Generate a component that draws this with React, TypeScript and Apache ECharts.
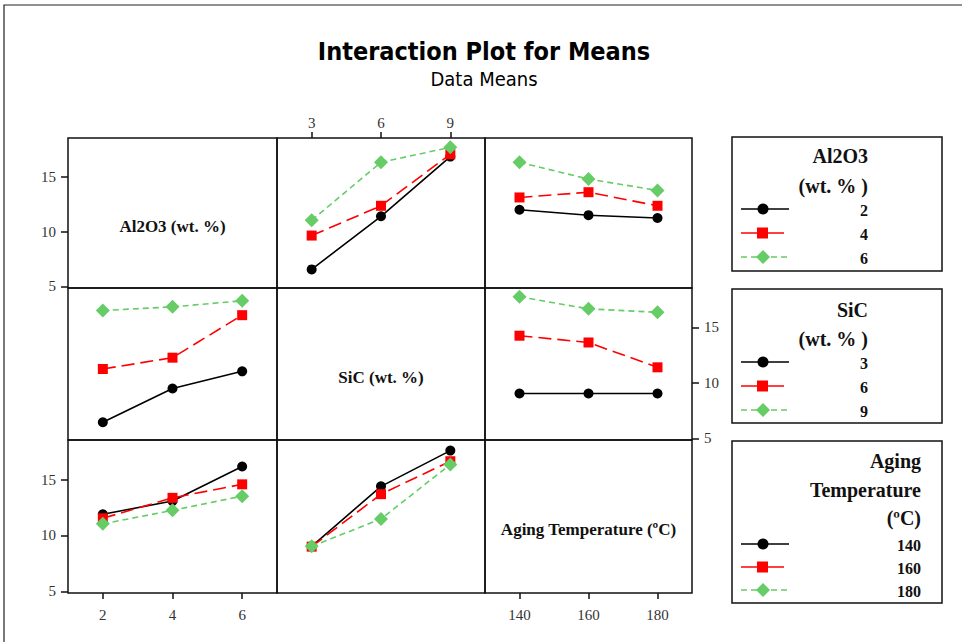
import React, { useEffect, useRef } from "react";
import * as echarts from "echarts";

// Factor levels (x categories)
const al2o3Levels = ["2", "4", "6"];
const sicLevels = ["3", "6", "9"];
const tempLevels = ["140", "160", "180"];
const yTicks = [5, 10, 15];

// Row 1: lines = Al2O3 levels (2, 4, 6)
const al_vsSiC_2 = [6.55, 11.4, 16.85];
const al_vsSiC_4 = [9.64, 12.36, 17.06];
const al_vsSiC_6 = [11.03, 16.33, 17.7];
const al_vsTemp_2 = [12.0, 11.5, 11.24];
const al_vsTemp_4 = [13.12, 13.6, 12.36];
const al_vsTemp_6 = [16.33, 14.8, 13.76];

// Row 2: lines = SiC levels (3, 6, 9)
const sic_vsAl_3 = [6.45, 9.49, 11.04];
const sic_vsAl_6 = [11.25, 12.27, 16.1];
const sic_vsAl_9 = [16.52, 16.85, 17.4];
const sic_vsTemp_3 = [9.04, 9.04, 9.04];
const sic_vsTemp_6 = [14.25, 13.64, 11.4];
const sic_vsTemp_9 = [17.76, 16.67, 16.36];

// Row 3: lines = Aging temperature levels (140, 160, 180)
const t_vsAl_140 = [11.9, 13.08, 16.18];
const t_vsAl_160 = [11.54, 13.37, 14.58];
const t_vsAl_180 = [11.04, 12.25, 13.52];
const t_vsSiC_140 = [9.03, 14.4, 17.6];
const t_vsSiC_160 = [9.0, 13.7, 16.65];
const t_vsSiC_180 = [9.03, 11.48, 16.36];

const BLACK = "#000000";
const RED = "#ff0000";
const GREEN = "#66cc66";
const SERIF = "'Liberation Serif', 'Times New Roman', serif";
const SANS = "'DejaVu Sans Condensed', 'DejaVu Sans', sans-serif";

const colX = [68, 277, 485, 692];
const rowY = [138, 288, 440, 593];

export default function App() {
  const ref = useRef<HTMLDivElement>(null);
  useEffect(() => {
    if (!ref.current) return;
    const chart = echarts.init(ref.current, undefined, { renderer: "svg" });

    const grids: any[] = [];
    const xAxes: any[] = [];
    const yAxes: any[] = [];
    const series: any[] = [];
    const cats = [al2o3Levels, sicLevels, tempLevels];

    const axisLbl = { fontFamily: SERIF, fontSize: 15, color: "#333" };

    for (let r = 0; r < 3; r++) {
      for (let c = 0; c < 3; c++) {
        const idx = grids.length;
        grids.push({
          left: colX[c],
          top: rowY[r],
          width: colX[c + 1] - colX[c],
          height: rowY[r + 1] - rowY[r],
          show: true,
          borderColor: "#111",
          borderWidth: 1.5,
          backgroundColor: "transparent",
          containLabel: false,
        });
        const showXTop = r === 0 && c === 1;
        const showXBottom = r === 2 && (c === 0 || c === 2);
        const showX = showXTop || showXBottom;
        xAxes.push({
          gridIndex: idx,
          type: "category",
          data: cats[c],
          boundaryGap: true,
          position: showXTop ? "top" : "bottom",
          axisLine: { show: false },
          axisTick: {
            show: showX,
            alignWithLabel: true,
            length: 6,
            lineStyle: { color: "#111", width: 1.5 },
          },
          axisLabel: { show: showX, margin: showXTop ? 8 : 14, ...axisLbl },
          splitLine: { show: false },
        });
        const showYLeft = c === 0 && (r === 0 || r === 2);
        const showYRight = c === 2 && r === 1;
        const showY = showYLeft || showYRight;
        yAxes.push({
          gridIndex: idx,
          type: "value",
          min: 4.85,
          max: 18.55,
          position: showYRight ? "right" : "left",
          axisLine: { show: false },
          axisTick: {
            show: showY,
            length: 7,
            customValues: yTicks,
            lineStyle: { color: "#111", width: 1.5 },
          },
          axisLabel: { show: showY, margin: 12, customValues: yTicks, ...axisLbl },
          splitLine: { show: false },
        });
      }
    }

    const styles = [
      { color: BLACK, symbol: "circle", size: 10, type: "solid" as any },
      { color: RED, symbol: "rect", size: 10, type: [13, 6] as any },
      { color: GREEN, symbol: "diamond", size: 14, type: [6, 4] as any },
    ];
    const panels: [number, number[][]][] = [
      [1, [al_vsSiC_2, al_vsSiC_4, al_vsSiC_6]],
      [2, [al_vsTemp_2, al_vsTemp_4, al_vsTemp_6]],
      [3, [sic_vsAl_3, sic_vsAl_6, sic_vsAl_9]],
      [5, [sic_vsTemp_3, sic_vsTemp_6, sic_vsTemp_9]],
      [6, [t_vsAl_140, t_vsAl_160, t_vsAl_180]],
      [7, [t_vsSiC_140, t_vsSiC_160, t_vsSiC_180]],
    ];
    panels.forEach(([gi, lines]) => {
      lines.forEach((d, k) => {
        const s = styles[k];
        series.push({
          type: "line",
          xAxisIndex: gi,
          yAxisIndex: gi,
          data: d,
          symbol: s.symbol,
          symbolSize: s.size,
          showSymbol: true,
          itemStyle: { color: s.color },
          lineStyle: { color: s.color, width: 1.6, type: s.type },
          z: 2 + k,
        });
      });
    });

    const diagLabels = ["Al2O3 (wt. %)", "SiC (wt. %)", "Aging Temperature (ºC)"];
    const graphic: any[] = [
      {
        type: "rect",
        shape: { x: 4, y: 5, width: 1000, height: 1000 },
        style: { fill: "none", stroke: "#222", lineWidth: 1.2 },
        silent: true,
      },
      {
        type: "text",
        x: 484,
        y: 51,
        style: {
          text: "Interaction Plot for Means",
          fontFamily: SANS,
          fontWeight: "bold",
          fontSize: 25,
          fill: "#000",
          align: "center",
          verticalAlign: "middle",
        },
      },
      {
        type: "text",
        x: 484,
        y: 79,
        style: {
          text: "Data Means",
          fontFamily: SANS,
          fontSize: 20,
          fill: "#000",
          align: "center",
          verticalAlign: "middle",
        },
      },
    ];
    diagLabels.forEach((t, i) => {
      graphic.push({
        type: "text",
        x: (colX[i] + colX[i + 1]) / 2,
        y: (rowY[i] + rowY[i + 1]) / 2 + 13,
        style: {
          text: t,
          fontFamily: SERIF,
          fontWeight: "bold",
          fontSize: 17,
          fill: "#111",
          align: "center",
          verticalAlign: "middle",
        },
      });
    });

    // Legend boxes
    const legends = [
      { top: 137, bottom: 271, rightX: 868, titles: ["Al2O3", "(wt. % )"], titleY: [156, 186], items: al2o3Levels, itemY: [209, 233, 257] },
      { top: 289, bottom: 423, rightX: 868, titles: ["SiC", "(wt. % )"], titleY: [310, 339], items: sicLevels, itemY: [362, 386, 410] },
      { top: 441, bottom: 603, rightX: 921, titles: ["Aging", "Temperature", "(ºC)"], titleY: [461, 490, 518], items: tempLevels, itemY: [544, 567, 590] },
    ];
    legends.forEach((lg) => {
      graphic.push({
        type: "rect",
        shape: { x: 732, y: lg.top, width: 210, height: lg.bottom - lg.top },
        style: { fill: "#fff", stroke: "#111", lineWidth: 1.5 },
      });
      lg.titles.forEach((t, i) => {
        graphic.push({
          type: "text",
          x: lg.rightX,
          y: lg.titleY[i],
          style: {
            text: t,
            fontFamily: SERIF,
            fontWeight: "bold",
            fontSize: 20,
            fill: "#111",
            align: "right",
            verticalAlign: "middle",
          },
        });
      });
      lg.items.forEach((t, k) => {
        const y = lg.itemY[k];
        const s = styles[k];
        graphic.push({
          type: "line",
          shape: { x1: 741, y1: y, x2: k === 1 ? 784 : 789, y2: y },
          style: { stroke: s.color, lineWidth: 1.6, lineDash: k === 2 ? [6, 4] : null },
        });
        if (k === 0) {
          graphic.push({ type: "circle", shape: { cx: 763, cy: y, r: 5.5 }, style: { fill: s.color } });
        } else if (k === 1) {
          graphic.push({ type: "rect", shape: { x: 757, y: y - 5.5, width: 11, height: 11 }, style: { fill: s.color } });
        } else {
          graphic.push({
            type: "polygon",
            shape: { points: [[763, y - 7], [770, y], [763, y + 7], [756, y]] },
            style: { fill: s.color },
          });
        }
        graphic.push({
          type: "text",
          x: lg.rightX,
          y: y + 1,
          style: {
            text: t,
            fontFamily: SERIF,
            fontWeight: "bold",
            fontSize: 16,
            fill: "#111",
            align: "right",
            verticalAlign: "middle",
          },
        });
      });
    });

    chart.setOption({
      animation: false,
      backgroundColor: "#fff",
      grid: grids,
      xAxis: xAxes,
      yAxis: yAxes,
      series,
      graphic,
    });
    return () => chart.dispose();
  }, []);
  return (
    <div
      ref={ref}
      style={{ position: "fixed", left: 0, top: 0, width: 962, height: 642 }}
    />
  );
}
